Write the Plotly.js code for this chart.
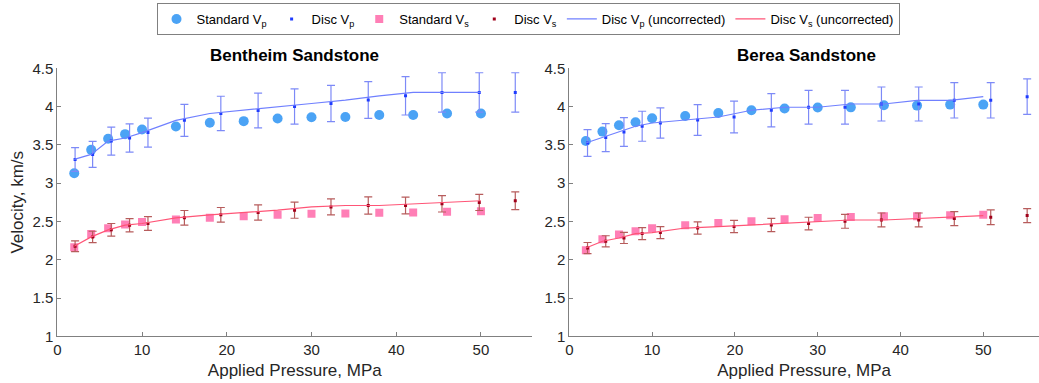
<!DOCTYPE html>
<html>
<head>
<meta charset="utf-8">
<script src="https://cdn.plot.ly/plotly-3.0.1.min.js"></script>
<style>html,body{margin:0;padding:0;background:#fff;}#chart{width:1039px;height:383px;}</style>
</head>
<body>
<div id="chart"></div>
<script>
// Nominal (uncorrected) applied pressures, MPa
const nominalP = [2,4,6,8,10,14,18,22,26,30,34,38,42,46,50];

// Bentheim Sandstone
const bentStdVp = [3.13,3.435,3.58,3.64,3.70,3.74,3.79,3.81,3.845,3.86,3.865,3.89,3.89,3.91,3.91];
const bentStdVs = [2.163,2.337,2.41,2.46,2.494,2.525,2.547,2.569,2.586,2.599,2.603,2.612,2.617,2.625,2.634];
const bentDiscP = [2.1,4.17,6.37,8.53,10.7,15.0,19.3,23.7,28.0,32.3,36.7,41.1,45.4,49.8,54.05];
const bentDiscVp = [3.31,3.375,3.55,3.59,3.66,3.82,3.91,3.95,4.00,4.04,4.085,4.14,4.185,4.185,4.185];
const bentDiscVpErr = [0.155,0.17,0.183,0.185,0.19,0.21,0.225,0.227,0.23,0.237,0.24,0.25,0.257,0.257,0.257];
const bentDiscVs = [2.176,2.298,2.39,2.451,2.473,2.547,2.586,2.617,2.647,2.69,2.708,2.708,2.73,2.748,2.77];
const bentDiscVsErr = [0.07,0.074,0.083,0.087,0.089,0.096,0.096,0.10,0.105,0.105,0.113,0.11,0.107,0.105,0.115];

// Berea Sandstone
const bereaStdVp = [3.551,3.673,3.756,3.795,3.847,3.877,3.916,3.952,3.974,3.987,3.99,4.017,4.013,4.026,4.026];
const bereaStdVs = [2.123,2.267,2.328,2.371,2.41,2.45,2.48,2.502,2.528,2.545,2.558,2.567,2.567,2.58,2.589];
const bereaDiscP = [2.2,4.4,6.6,8.8,11.0,15.5,19.9,24.4,28.9,33.3,37.7,42.2,46.5,50.9,55.3];
const bereaDiscVp = [3.525,3.595,3.668,3.743,3.786,3.825,3.864,3.952,3.991,3.991,4.034,4.034,4.082,4.082,4.13];
const bereaDiscVpErr = [0.174,0.183,0.187,0.196,0.198,0.2,0.207,0.218,0.22,0.22,0.222,0.222,0.231,0.231,0.233];
const bereaDiscVs = [2.153,2.241,2.284,2.341,2.354,2.414,2.433,2.454,2.472,2.502,2.519,2.519,2.537,2.554,2.576];
const bereaDiscVsErr = [0.072,0.072,0.072,0.078,0.078,0.08,0.08,0.087,0.083,0.091,0.091,0.091,0.091,0.096,0.091];

const xTicks = [0,10,20,30,40,50];
const yTicks = [1,1.5,2,2.5,3,3.5,4,4.5];
const yTickText = ['1','1.5','2','2.5','3','3.5','4','4.5'];

const C = {
  stdVp: '#4ba3f5', discVp: '#1f3cff', discVpErr: '#7d8af7', lineVp: '#7080ff',
  stdVs: '#ff7fb6', discVs: '#a0001a', discVsErr: '#b75c5c', lineVs: '#ff5577'
};

function panel(xa, ya, stdVp, stdVs, discP, discVp, discVpErr, discVs, discVsErr, show) {
  return [
    {type:'scatter', mode:'markers', name:'Standard V<sub>p</sub>', x:nominalP, y:stdVp, xaxis:xa, yaxis:ya,
     marker:{symbol:'circle', size:10, color:C.stdVp}, showlegend:show, legendgroup:'a'},
    {type:'scatter', mode:'markers', name:'Disc V<sub>p</sub>', x:discP, y:discVp, xaxis:xa, yaxis:ya,
     marker:{symbol:'square', size:3, color:C.discVp},
     error_y:{type:'data', array:discVpErr, visible:true, color:C.discVpErr, thickness:1.2, width:4},
     showlegend:show, legendgroup:'b'},
    {type:'scatter', mode:'markers', name:'Standard V<sub>s</sub>', x:nominalP, y:stdVs, xaxis:xa, yaxis:ya,
     marker:{symbol:'square', size:8, color:C.stdVs}, showlegend:show, legendgroup:'c'},
    {type:'scatter', mode:'markers', name:'Disc V<sub>s</sub>', x:discP, y:discVs, xaxis:xa, yaxis:ya,
     marker:{symbol:'square', size:3, color:C.discVs},
     error_y:{type:'data', array:discVsErr, visible:true, color:C.discVsErr, thickness:1.2, width:4},
     showlegend:show, legendgroup:'d'},
    {type:'scatter', mode:'lines', name:'Disc V<sub>p</sub> (uncorrected)', x:nominalP, y:discVp, xaxis:xa, yaxis:ya,
     line:{color:C.lineVp, width:1.2}, showlegend:show, legendgroup:'e'},
    {type:'scatter', mode:'lines', name:'Disc V<sub>s</sub> (uncorrected)', x:nominalP, y:discVs, xaxis:xa, yaxis:ya,
     line:{color:C.lineVs, width:1.2}, showlegend:show, legendgroup:'f'}
  ];
}

const data = [].concat(
  panel('x','y', bentStdVp, bentStdVs, bentDiscP, bentDiscVp, bentDiscVpErr, bentDiscVs, bentDiscVsErr, true),
  panel('x2','y2', bereaStdVp, bereaStdVs, bereaDiscP, bereaDiscVp, bereaDiscVpErr, bereaDiscVs, bereaDiscVsErr, false)
);

const font = 'Liberation Sans, Arial, Helvetica, sans-serif';
const axCommon = {
  showline:true, linecolor:'#808080', linewidth:1, mirror:false,
  ticks:'inside', ticklen:4, tickcolor:'#808080', showgrid:false, zeroline:false,
  tickfont:{family:font, size:15, color:'#262626'}
};
const yDom = [ (383-336.3)/383, (383-68.3)/383 ];

const layout = {
  width:1039, height:383,
  margin:{l:0, r:0, t:0, b:0},
  paper_bgcolor:'#fff', plot_bgcolor:'#fff',
  font:{family:font, color:'#262626'},
  xaxis: Object.assign({}, axCommon, {domain:[57.3/1039, 532.3/1039], range:[0,56.06], tickvals:xTicks, anchor:'y',
    title:{text:'Applied Pressure, MPa', font:{family:font, size:17, color:'#262626'}, standoff:6}}),
  yaxis: Object.assign({}, axCommon, {domain:yDom, range:[1,4.5], tickvals:yTicks, ticktext:yTickText, anchor:'x',
    title:{text:'Velocity, km/s', font:{family:font, size:17, color:'#262626'}, standoff:4}}),
  xaxis2: Object.assign({}, axCommon, {domain:[569.3/1039, 1], range:[0,56.73], tickvals:xTicks, anchor:'y2',
    title:{text:'Applied Pressure, MPa', font:{family:font, size:17, color:'#262626'}, standoff:6}}),
  yaxis2: Object.assign({}, axCommon, {domain:yDom, range:[1,4.5], tickvals:yTicks, ticktext:yTickText, anchor:'x2'}),
  annotations:[
    {text:'<b>Bentheim Sandstone</b>', x:294.8/1039, y:(383-56)/383, xref:'paper', yref:'paper', showarrow:false,
     xanchor:'center', yanchor:'middle', font:{family:font, size:17, color:'#000'}},
    {text:'<b>Berea Sandstone</b>', x:806.5/1039, y:(383-56)/383, xref:'paper', yref:'paper', showarrow:false,
     xanchor:'center', yanchor:'middle', font:{family:font, size:17, color:'#000'}}
  ],
  legend:{orientation:'h', x:528/1039, xanchor:'center', y:(383-3)/383, yanchor:'top',
    bordercolor:'#808080', borderwidth:1, bgcolor:'#fff',
    font:{family:font, size:13, color:'#000'}, itemwidth:30, tracegroupgap:0},
  showlegend:true
};

Plotly.newPlot('chart', data, layout, {displayModeBar:false, staticPlot:true});
</script>
</body>
</html>
